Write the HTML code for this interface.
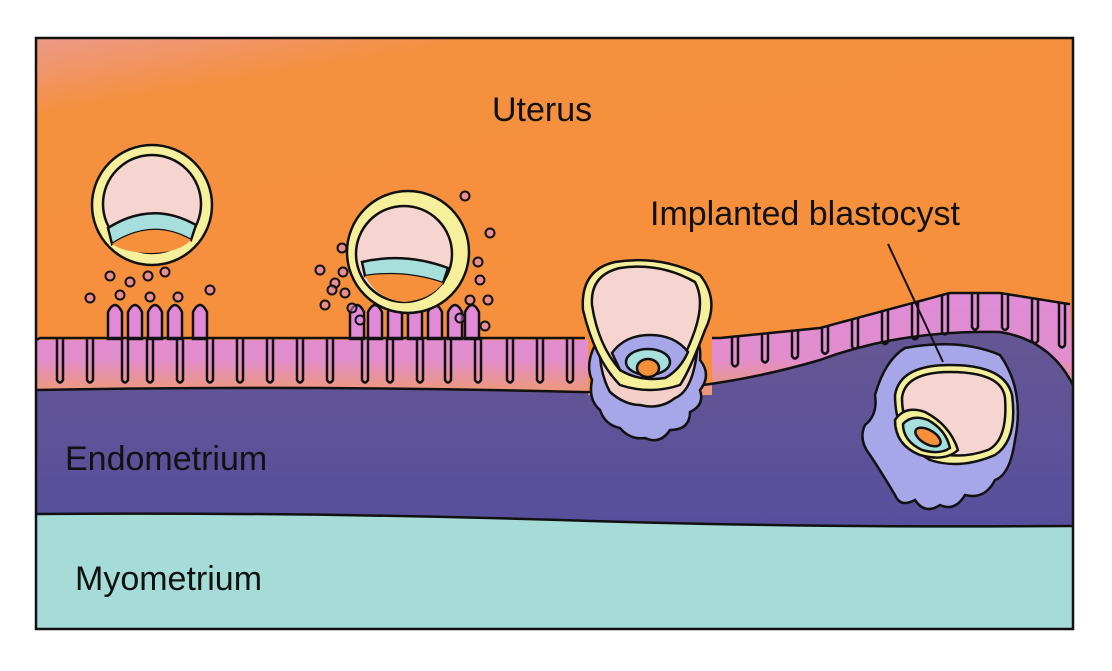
<!DOCTYPE html>
<html><head><meta charset="utf-8"><style>
html,body{margin:0;padding:0;background:#fff;}
svg{display:block}
text{font-family:"Liberation Sans",sans-serif;fill:#111;}
</style></head><body>
<svg id="s" width="1112" height="671" viewBox="0 0 1112 671" xmlns="http://www.w3.org/2000/svg">
<defs>
<linearGradient id="og" x1="0" y1="0" x2="0.3" y2="1">
<stop offset="0" stop-color="#ec9a8a"/><stop offset="0.12" stop-color="#f5903f"/><stop offset="1" stop-color="#f7903a"/>
</linearGradient>
<linearGradient id="pg" x1="0" y1="0" x2="0" y2="1">
<stop offset="0" stop-color="#df8cd8"/><stop offset="0.65" stop-color="#e28dcc"/><stop offset="1" stop-color="#ee9a70"/>
</linearGradient>
<linearGradient id="eg" x1="0" y1="0" x2="0" y2="1">
<stop offset="0" stop-color="#655693"/><stop offset="1" stop-color="#584f9c"/>
</linearGradient>
</defs>
<rect x="36" y="38" width="1037" height="591" fill="url(#og)"/>
<path d="M36 514 Q300 512 560 520 Q800 528 1073 526 L1073 629 L36 629Z" fill="#a6dcd7"/>
<path d="M36 390 Q300 385 580 392 Q700 395 820 360 Q900 330 1000 332 Q1050 340 1073 385 L1073 526 Q800 528 560 520 Q300 512 36 514Z" fill="url(#eg)"/>
<g id="epi"></g>
<path d="M36 390 Q300 385 580 392 Q700 395 820 360 Q900 330 1000 332 Q1050 340 1073 385" fill="none" stroke="#111" stroke-width="2.5"/>
<path d="M36 514 Q300 512 560 520 Q800 528 1073 526" fill="none" stroke="#111" stroke-width="2.5"/>

<g stroke="#111" stroke-width="2.5">
<circle cx="152" cy="205" r="60" fill="#f6f09c"/>
<circle cx="152" cy="204" r="49" fill="#f6d5d0"/>
<path d="M108 228 Q152 200 196 225 L191 240 Q152 218 112 244Z" fill="#a6dfdc"/>
<path d="M112 244 Q152 218 191 240 Q180 252 152 253 Q125 253 112 244Z" fill="#f7903a" stroke="none"/>
<circle cx="408" cy="252" r="61" fill="#f6f09c"/>
<circle cx="404" cy="254" r="48" fill="#f6d5d0"/>
<path d="M362 262 Q405 252 448 268 L443 283 Q405 270 365 276Z" fill="#a6dfdc"/>
<path d="M365 276 Q405 270 443 283 Q430 300 404 302 Q378 300 365 276Z" fill="#f7903a" stroke="none"/>
<path d="M595 345 Q585 365 592 380 Q588 400 600 410 Q605 425 620 428 Q630 440 645 438 Q660 445 670 430 Q690 430 690 412 Q705 405 700 390 Q712 375 700 360 Q702 340 690 335Z" fill="#a7a6e8"/>
<path d="M600 340 Q598 370 610 392 Q625 405 640 405 Q660 410 675 398 Q695 390 698 340Z" fill="#f3cfc9"/>
<path d="M583 310 Q580 270 615 262 Q660 255 700 275 Q720 300 705 330 Q690 370 680 385 Q650 395 620 385 Q595 360 583 310Z" fill="#f6f09c"/>
<path d="M592 305 Q590 275 620 268 Q660 262 695 282 Q705 300 695 330 Q685 360 670 375 Q640 380 620 370 Q598 345 592 305Z" fill="#f6d5d0"/>
<path d="M612 353 Q625 335 650 335 Q675 335 688 352 Q680 370 665 378 Q640 382 620 370Z" fill="#a7a6e8"/>
<ellipse cx="648" cy="362" rx="22" ry="13" fill="#a6dfdc"/>
<ellipse cx="648" cy="368" rx="11" ry="9" fill="#f7903a"/>
<path d="M905 348 Q960 338 1000 355 Q1025 390 1015 440 Q1010 475 995 480 Q985 500 965 495 Q955 512 940 505 Q925 515 915 500 Q900 508 895 495 Q880 470 870 455 Q858 440 865 425 Q878 415 875 395 Q885 360 905 348Z" fill="#a7a6e8"/>
<path d="M895 395 Q900 365 950 365 Q1005 365 1012 395 Q1018 440 995 455 Q960 470 930 460 Q895 440 895 395Z" fill="#f6f09c"/>
<path d="M902 398 Q905 372 950 372 Q1002 372 1005 398 Q1008 440 988 450 Q960 460 935 452 Q902 435 902 398Z" fill="#f6d5d0"/>
<path d="M895 420 Q905 405 925 412 Q950 425 958 450 Q945 462 920 455 Q895 445 895 420Z" fill="#f6f09c"/>
<path d="M903 424 Q912 414 928 420 Q946 430 950 448 Q940 455 922 450 Q903 441 903 424Z" fill="#a6dfdc"/>
<ellipse cx="928" cy="437" rx="14" ry="7" transform="rotate(30 928 437)" fill="#f7903a"/>
</g>
<line x1="888" y1="244" x2="943" y2="362" stroke="#111" stroke-width="2"/>
<g id="dots" fill="none" stroke="#111" stroke-width="2"></g>
<rect x="36" y="38" width="1037" height="591" fill="none" stroke="#111" stroke-width="2.5"/>
<text x="492" y="121" font-size="34">Uterus</text>
<text x="650" y="225" font-size="34">Implanted blastocyst</text>
<text x="65" y="470" font-size="34">Endometrium</text>
<text x="75" y="590" font-size="34">Myometrium</text>
</svg>
<script>
function topY(x){if(x<720)return 338;if(x<820)return 338-(x-720)*0.1;if(x<950)return 328-(x-820)*0.27;if(x<1000)return 293;return 293+(x-1000)*0.16;}
function botY(x){if(x<580)return 390;if(x<820)return 392-(x-580)*0.13;if(x<1000)return 360-(x-820)*0.16;return 332+(x-1000)*0.7;}
var tall=[115,135,155,175,200,357,375,395,415,435,455,472];
var crypts=[60,90,125,150,180,210,240,270,300,330,365,390,420,448,478,510,540,570,735,765,795,825,855,885,915,945,975,1005,1035,1062];
var p="M36 340 L588 340 L588 395 L712 395 L712 338";
for(var x=715;x<=1073;x+=5)p+=" L"+x+" "+topY(x);
var fill=p+" L1073 385 Q1050 340 1000 332 Q900 330 820 360 Q700 395 580 392 Q300 385 36 390Z";
var h='<path d="'+fill+'" fill="url(#pg)"/>';
var s="";
for(var i=0;i<crypts.length;i++){var x=crypts[i];var t=topY(x);var b=Math.min(botY(x)-8,t+42);
 s+='<path d="M'+(x-3)+' '+t+' L'+(x-3)+' '+b+' Q'+x+' '+(b+5)+' '+(x+3)+' '+b+' L'+(x+3)+' '+t+'" fill="none" stroke="#111" stroke-width="2.5"/>';}
var tl="M36 340";for(var x=40;x<=585;x+=5)tl+=" L"+x+" "+topY(x);
var tl2="M712 338";for(var x=715;x<=1073;x+=5)tl2+=" L"+x+" "+topY(x);
s+='<path d="'+tl+'" fill="none" stroke="#111" stroke-width="2.5"/><path d="'+tl2+'" fill="none" stroke="#111" stroke-width="2.5"/>';
for(var i=0;i<tall.length;i++){var x=tall[i];h+='<path d="M'+(x-7)+' 339 L'+(x-7)+' 312 Q'+x+' 298 '+(x+7)+' 312 L'+(x+7)+' 339Z" fill="#e08ad8" stroke="#111" stroke-width="2.5"/>';}
document.getElementById('epi').innerHTML=h+s;
var dp=[[110,276],[130,282],[148,276],[165,272],[90,298],[120,295],[150,297],[178,297],[210,290],[320,270],[335,283],[345,293],[325,305],[352,308],[342,248],[343,272],[465,196],[490,233],[478,262],[480,280],[488,300],[470,300],[460,318],[485,326],[332,290],[360,320]];
var dh="";dp.forEach(function(q){dh+='<circle cx="'+q[0]+'" cy="'+q[1]+'" r="4.5" fill="#d98be0" fill-opacity=".5"/>';});
document.getElementById('dots').innerHTML=dh;
</script>
</body></html>
